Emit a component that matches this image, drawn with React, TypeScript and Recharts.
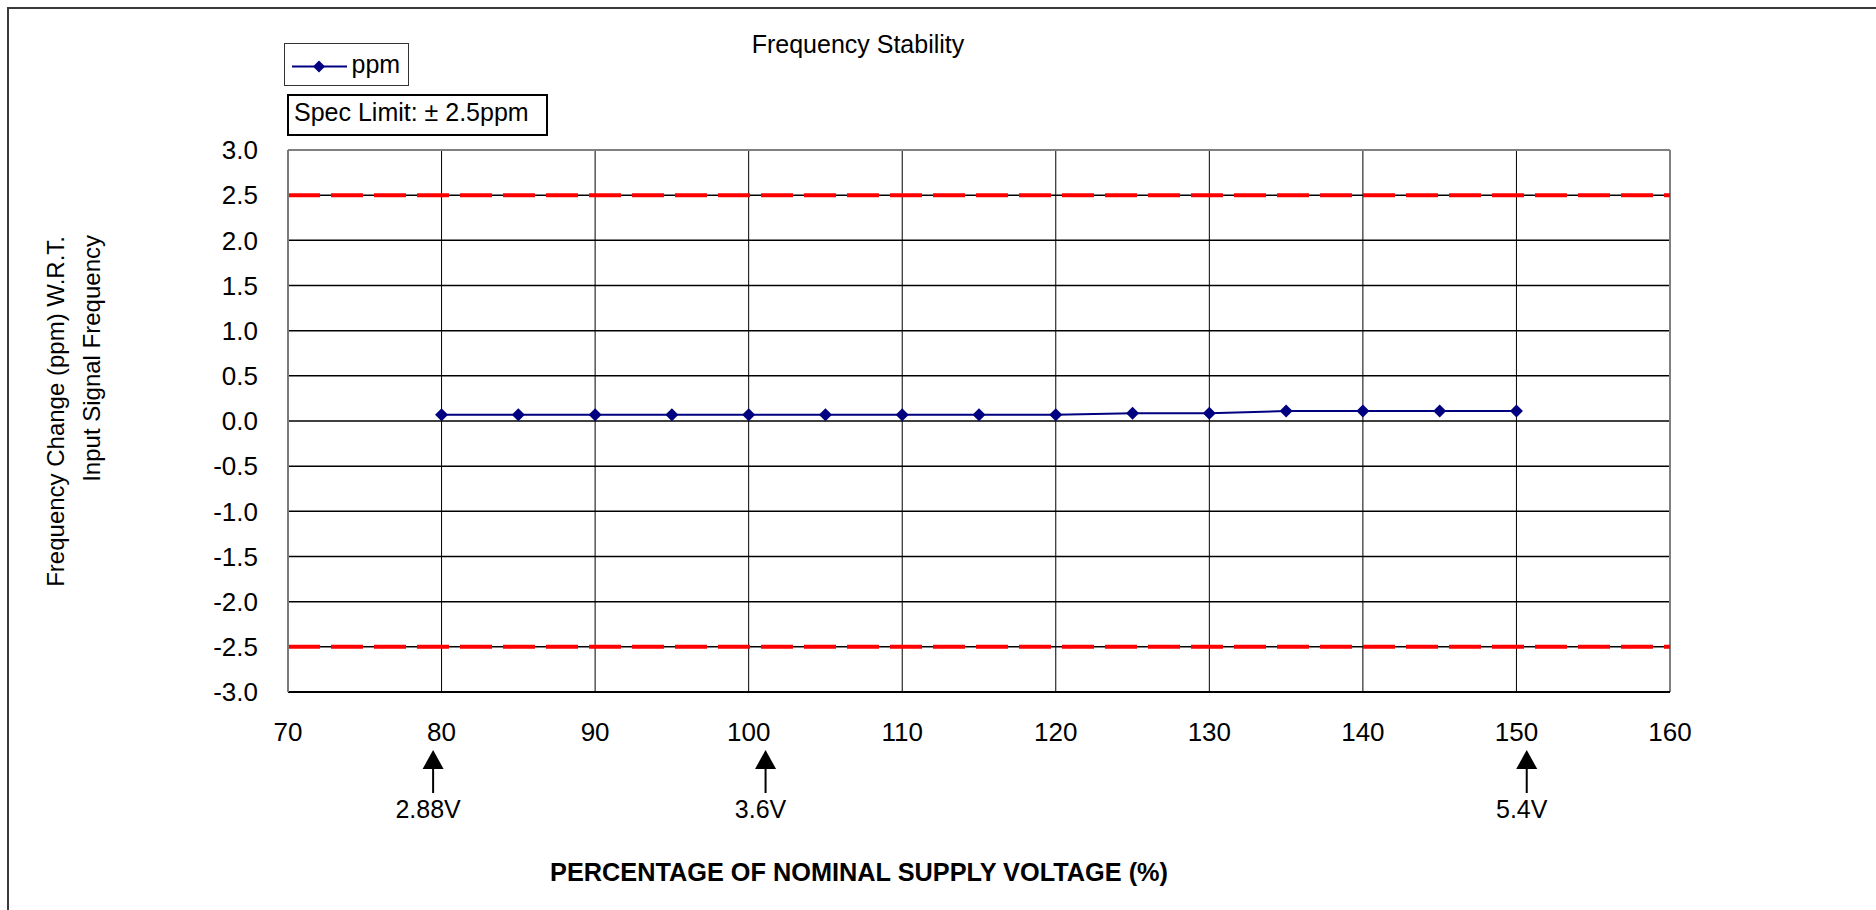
import React from "react";
import {
  LineChart,
  Line,
  XAxis,
  YAxis,
  CartesianGrid,
  ReferenceLine,
  ReferenceDot,
  Legend,
  Label,
} from "recharts";

// ---- data ----
const supplyPercent = [80, 85, 90, 95, 100, 105, 110, 115, 120, 125, 130, 135, 140, 145, 150];
const ppmValues = [0.07, 0.07, 0.07, 0.07, 0.07, 0.07, 0.07, 0.07, 0.07, 0.085, 0.085, 0.11, 0.11, 0.11, 0.11];
const xTicks = [70, 80, 90, 100, 110, 120, 130, 140, 150, 160];
const yTicks = [-3, -2.5, -2, -1.5, -1, -0.5, 0, 0.5, 1, 1.5, 2, 2.5, 3];
const specLimits = [2.5, -2.5];
const voltageMarkerX = [79.45, 101.1, 150.67];
const voltageMarkerLabels = ["2.88V", "3.6V", "5.4V"];

const seriesName = "ppm";
const specText = "Spec Limit: \u00B1 2.5ppm";
const titleText = "Frequency Stability";
const yTitleLine1 = "Frequency Change (ppm) W.R.T.";
const yTitleLine2 = "Input Signal Frequency";
const xTitle = "PERCENTAGE OF NOMINAL SUPPLY VOLTAGE (%)";

const data = supplyPercent.map((x, i) => ({ x, ppm: ppmValues[i] }));

const FONT = '"Liberation Sans", Arial, Helvetica, sans-serif';
const NAVY = "#000080";

const Diamond = (props: any) => {
  const { cx, cy, index } = props;
  if (cx == null || cy == null) return <g key={`d-${index}`} />;
  const r = 6.5;
  return (
    <path
      key={`d-${index}`}
      d={`M${cx},${cy - r}L${cx + r},${cy}L${cx},${cy + r}L${cx - r},${cy}Z`}
      fill={NAVY}
      stroke="none"
    />
  );
};

const makeArrow = (label: string) => (props: any) => {
  const { cx, cy } = props;
  if (cx == null || cy == null) return <g />;
  return (
    <g>
      <path d={`M${cx},${cy + 58}L${cx + 10.5},${cy + 77}L${cx - 10.5},${cy + 77}Z`} fill="#000" />
      <line x1={cx} y1={cy + 76} x2={cx} y2={cy + 101} stroke="#000" strokeWidth={2} />
      <text
        x={cx - 5}
        y={cy + 126}
        textAnchor="middle"
        fontSize={25}
        fontFamily={FONT}
        fill="#000"
      >
        {label}
      </text>
    </g>
  );
};

const renderLegend = () => (
  <div style={{ position: "relative", width: 270, height: 100, fontFamily: FONT, color: "#000" }}>
    <div
      style={{
        position: "absolute",
        left: 0,
        top: 0,
        width: 125,
        height: 43,
        boxSizing: "border-box",
        border: "1.5px solid #333",
        background: "#fff",
      }}
    >
      <svg width={62} height={40} style={{ position: "absolute", left: 6, top: 0 }}>
        <line x1={1} y1={22.5} x2={56} y2={22.5} stroke={NAVY} strokeWidth={2} />
        <path d="M28,16.5L34,22.5L28,28.5L22,22.5Z" fill={NAVY} />
      </svg>
      <span
        style={{
          position: "absolute",
          left: 66.5,
          top: 7.6,
          fontSize: 25,
          lineHeight: "25px",
          whiteSpace: "nowrap",
        }}
      >
        {seriesName}
      </span>
    </div>
    <div
      style={{
        position: "absolute",
        left: 3,
        top: 51,
        width: 261,
        height: 42,
        boxSizing: "border-box",
        border: "2px solid #000",
        background: "#fff",
      }}
    >
      <span
        style={{
          position: "absolute",
          left: 5,
          top: 3.8,
          fontSize: 25,
          lineHeight: "25px",
          whiteSpace: "nowrap",
        }}
      >
        {specText}
      </span>
    </div>
  </div>
);

export default function App() {
  return (
    <div style={{ position: "relative", width: 1876, height: 910, overflow: "hidden", background: "#fff" }}>
      <style>{`html,body{margin:0;padding:0;overflow:hidden;background:#fff;}`}</style>
      <div
        style={{
          position: "absolute",
          left: 7,
          top: 6.5,
          width: 1869,
          height: 904,
          borderTop: "2px solid #3a3a3a",
          borderLeft: "2px solid #3a3a3a",
          boxSizing: "border-box",
        }}
      />
      <div style={{ position: "absolute", left: 0, top: 0 }}>
        <LineChart
          width={1876}
          height={910}
          data={data}
          margin={{ top: 150, right: 206, bottom: 178, left: 188 }}
          style={{ fontFamily: FONT }}
        >
          <CartesianGrid vertical={false} stroke="#000" strokeWidth={1.5} />
          <CartesianGrid horizontal={false} stroke="#000" strokeWidth={1} />
          <XAxis
            dataKey="x"
            type="number"
            domain={[70, 160]}
            ticks={xTicks}
            interval={0}
            height={40}
            tickLine={false}
            tickSize={0}
            tickMargin={31}
            axisLine={{ stroke: "#000", strokeWidth: 2 }}
            tick={{ fill: "#000", fontSize: 26, fontFamily: FONT }}
          >
            <Label
              content={() => (
                <text
                  x={859}
                  y={881}
                  textAnchor="middle"
                  fontSize={25.3}
                  fontWeight="bold"
                  fontFamily={FONT}
                  fill="#000"
                >
                  {xTitle}
                </text>
              )}
            />
          </XAxis>
          <YAxis
            type="number"
            domain={[-3, 3]}
            ticks={yTicks}
            interval={0}
            width={100}
            tickLine={false}
            tickSize={0}
            tickMargin={30}
            tickFormatter={(v: number) => v.toFixed(1)}
            axisLine={{ stroke: "#7a7a7a", strokeWidth: 2 }}
            tick={{ fill: "#000", fontSize: 26, fontFamily: FONT }}
          >
            <Label
              content={() => (
                <g>
                  <text
                    transform="rotate(-90, 64, 236)"
                    x={64}
                    y={236}
                    textAnchor="end"
                    fontSize={24}
                    fontFamily={FONT}
                    fill="#000"
                  >
                    {yTitleLine1}
                  </text>
                  <text
                    transform="rotate(-90, 100, 235)"
                    x={100}
                    y={235}
                    textAnchor="end"
                    fontSize={24}
                    fontFamily={FONT}
                    fill="#000"
                  >
                    {yTitleLine2}
                  </text>
                </g>
              )}
            />
          </YAxis>
          <ReferenceLine y={3} stroke="#808080" strokeWidth={2} />
          <ReferenceLine x={160} stroke="#808080" strokeWidth={2} />
          {specLimits.map((v) => (
            <ReferenceLine
              key={`spec-${v}`}
              y={v}
              stroke="#ff0000"
              strokeWidth={4}
              strokeDasharray="32 11"
            />
          ))}
          {voltageMarkerX.map((vx, i) => (
            <ReferenceDot
              key={`arrow-${i}`}
              x={vx}
              y={-3}
              ifOverflow="visible"
              shape={makeArrow(voltageMarkerLabels[i])}
            />
          ))}
          <Legend
            content={renderLegend}
            layout="vertical"
            align="center"
            verticalAlign="middle"
            wrapperStyle={{ left: 284, top: 43, width: 270, height: 100 }}
          />
          <Line
            type="linear"
            dataKey="ppm"
            name={seriesName}
            stroke={NAVY}
            strokeWidth={2}
            dot={Diamond}
            activeDot={false}
            isAnimationActive={false}
          />
        </LineChart>
      </div>
      <svg
        width={1876}
        height={910}
        style={{ position: "absolute", left: 0, top: 0, pointerEvents: "none" }}
      >
        <text x={858} y={53} textAnchor="middle" fontSize={25} fontFamily={FONT} fill="#000">
          {titleText}
        </text>
      </svg>
    </div>
  );
}
